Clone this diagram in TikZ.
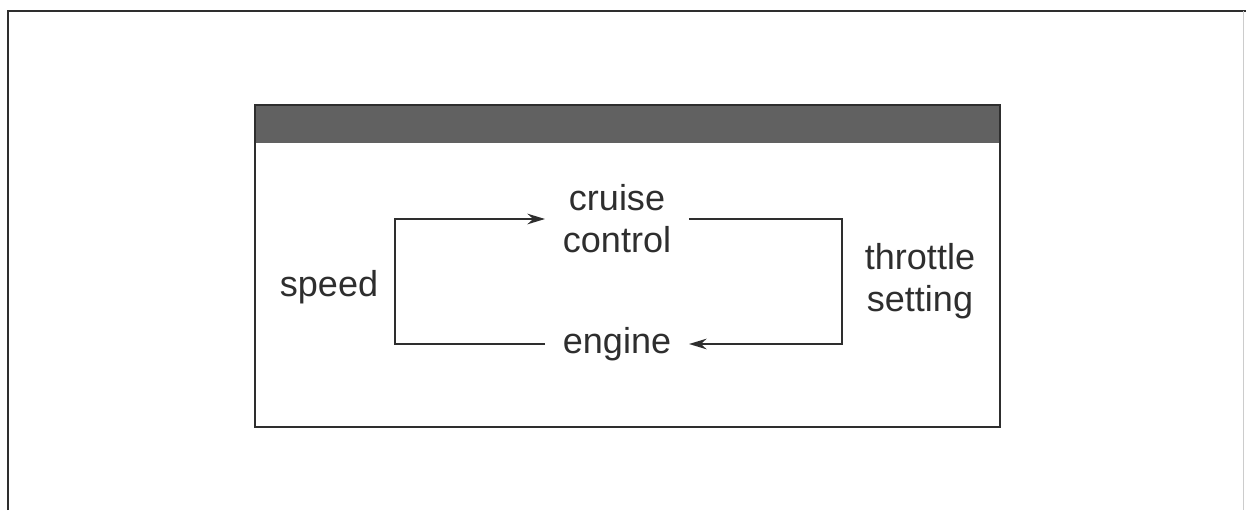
\documentclass[tikz,border=0pt]{standalone}
\usepackage{fontspec}
\setmainfont{Liberation Sans}
\usepackage{xcolor}
\usetikzlibrary{arrows.meta}

\definecolor{tinta}{gray}{0.18}
\definecolor{cabecera}{gray}{0.38}

\begin{document}
\begin{tikzpicture}[x=0.02cm, y=-0.02cm,
    >={Stealth[length=10pt,width=6pt]},
    etiqueta/.style={text=tinta, align=center, inner xsep=10pt, inner ysep=0pt,
        font=\fontsize{20.5}{24}\selectfont},
    flujo/.style={draw=tinta, line width=1.4pt}]

    % Marco exterior
    \useasboundingbox (0,0) rectangle (1246,510);
    \draw[tinta, line width=1.7pt] (8,510) -- (8,11) -- (1246,11);
    \draw[gray!40, line width=0.5pt] (1243,11) -- (1243,510);

    % Ventana con cabecera
    \fill[cabecera] (255,105) rectangle (1000,143);
    \draw[tinta, line width=1.4pt] (255,105) rectangle (1000,427);

    % Bloques
    \node[etiqueta] (control) at (617,219) {cruise\\control};
    \node[etiqueta] (motor)   at (617,344) {engine};
    \node[etiqueta, anchor=east] (velocidad)  at (396,287) {speed};
    \node[etiqueta, anchor=west] (acelerador) at (847,281) {throttle\\setting};

    % Lazo de realimentacion
    \draw[flujo, ->] (motor.west) -- ++(-150,0) |- (control.west);
    \draw[flujo, ->] (control.east) -- ++(153,0) |- (motor.east);
\end{tikzpicture}
\end{document}
